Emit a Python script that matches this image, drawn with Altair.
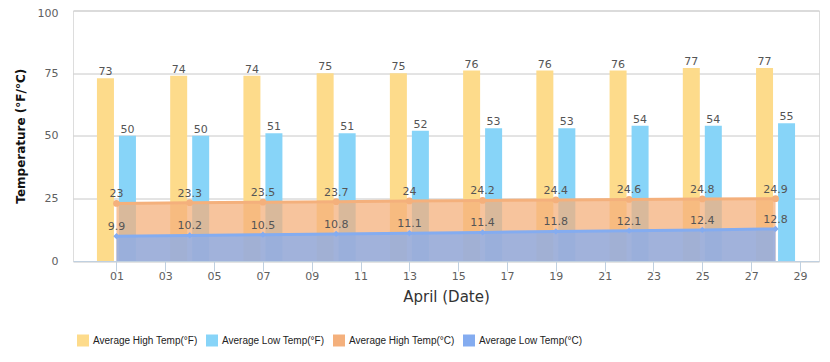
import altair as alt
import pandas as pd

days = [1, 4, 7, 10, 13, 16, 19, 22, 25, 28]
high_f = [73, 74, 74, 75, 75, 76, 76, 76, 77, 77]
low_f = [50, 50, 51, 51, 52, 53, 53, 54, 54, 55]
high_c = [23, 23.3, 23.5, 23.7, 24, 24.2, 24.4, 24.6, 24.8, 24.9]
low_c = [9.9, 10.2, 10.5, 10.8, 11.1, 11.4, 11.8, 12.1, 12.4, 12.8]

series_names = ["Average High Temp(°F)", "Average Low Temp(°F)",
                "Average High Temp(°C)", "Average Low Temp(°C)"]
series_colors = ["#FDDB8B", "#87D4F8", "#F4B07C", "#84ACF0"]
x_ticks = [1, 3, 5, 7, 9, 11, 13, 15, 17, 19, 21, 23, 25, 27, 29]
y_ticks = [0, 25, 50, 75, 100]


def frame(vals, name):
    return pd.DataFrame({"day": days, "value": vals, "series": name})


df_hf = frame(high_f, series_names[0])
df_lf = frame(low_f, series_names[1])
df_hc = frame(high_c, series_names[2])
df_lc = frame(low_c, series_names[3])

cscale = alt.Scale(domain=series_names, range=series_colors)

x_enc = alt.X(
    "day:Q",
    scale=alt.Scale(domain=[-0.78, 29.78], nice=False, zero=False, padding=0),
    axis=alt.Axis(
        values=x_ticks,
        labelExpr="datum.value < 10 ? '0' + datum.value : '' + datum.value",
        title="April (Date)",
        grid=False,
        domainColor="#C0D0E0",
        tickColor="#C0D0E0",
        tickSize=10,
        labelPadding=-1,
        labelFont="DejaVu Sans",
        labelFontSize=11,
        labelColor="#606060",
        titleFont="DejaVu Sans",
        titleFontSize=15,
        titleFontWeight="normal",
        titleColor="#333333",
        titlePadding=8,
    ),
)
y_enc = alt.Y(
    "value:Q",
    scale=alt.Scale(domain=[0, 100], nice=False, padding=0),
    axis=alt.Axis(
        values=y_ticks,
        title="Temperature (°F/°C)",
        domain=False,
        ticks=False,
        labelPadding=15,
        labelFont="DejaVu Sans",
        labelFontSize=11,
        labelColor="#606060",
        labelOffset={"condition": {"test": "datum.value == 100", "value": 3}, "value": 0},
        gridColor="#C8C8C8",
        titleFont="DejaVu Sans",
        titleFontSize=12,
        titleFontWeight="bold",
        titleColor="#111111",
        titleX=-53,
        titleY=125.25,
        titleBaseline="middle",
    ),
)

legend = alt.Legend(
    orient="none",
    legendX=4,
    legendY=324,
    direction="horizontal",
    title=None,
    symbolType="square",
    symbolSize=144,
    symbolOpacity=1,
    symbolStrokeWidth=0,
    labelFont="Liberation Sans",
    labelFontSize=10,
    labelColor="#222222",
    labelOffset=4,
    columnPadding=8,
    padding=0,
)

label_style = dict(fontSize=11, font="DejaVu Sans", color="#555555", baseline="bottom")

bars_hf = alt.Chart(df_hf).mark_bar(width=17, xOffset=-11).encode(
    x=x_enc, y=y_enc, color=alt.Color("series:N", scale=cscale, legend=legend)
)
bars_lf = alt.Chart(df_lf).mark_bar(width=17, xOffset=11).encode(
    x="day:Q", y="value:Q", color=alt.Color("series:N", scale=cscale, legend=None)
)
text_hf = alt.Chart(df_hf).mark_text(xOffset=-11, dy=-1, **label_style).encode(
    x="day:Q", y="value:Q", text="value:Q"
)
text_lf = alt.Chart(df_lf).mark_text(xOffset=11, dy=-1, **label_style).encode(
    x="day:Q", y="value:Q", text="value:Q"
)


def area_layers(df):
    c = alt.Color("series:N", scale=cscale, legend=None)
    base = alt.Chart(df).encode(x="day:Q", y="value:Q", color=c)
    area = base.mark_area(opacity=0.75)
    line = base.mark_line(strokeWidth=3)
    return area, line


area_hc, line_hc = area_layers(df_hc)
area_lc, line_lc = area_layers(df_lc)
pts_hc = alt.Chart(df_hc).mark_point(filled=True, size=45, opacity=1, shape="circle").encode(
    x="day:Q", y="value:Q", color=alt.Color("series:N", scale=cscale, legend=None)
)
pts_lc = alt.Chart(df_lc).mark_point(filled=True, size=40, opacity=1, shape="diamond").encode(
    x="day:Q", y="value:Q", color=alt.Color("series:N", scale=cscale, legend=None)
)
text_hc = alt.Chart(df_hc).mark_text(dy=-4, **label_style).encode(
    x="day:Q", y="value:Q", text="value:Q"
)
text_lc = alt.Chart(df_lc).mark_text(dy=-4, **label_style).encode(
    x="day:Q", y="value:Q", text="value:Q"
)

chart = alt.layer(
    bars_hf, bars_lf, text_hf, text_lf,
    area_hc, area_lc, line_hc, line_lc, pts_hc, pts_lc,
    text_hc, text_lc,
).properties(
    width=746,
    height=250.5,
    autosize=alt.AutoSizeParams(type="none"),
    padding={"left": 65, "top": 2.5, "right": 3, "bottom": 94},
).configure_view(stroke=None).configure(background="white")

chart.save("out.html", embed_options={"renderer": "svg", "actions": False})
